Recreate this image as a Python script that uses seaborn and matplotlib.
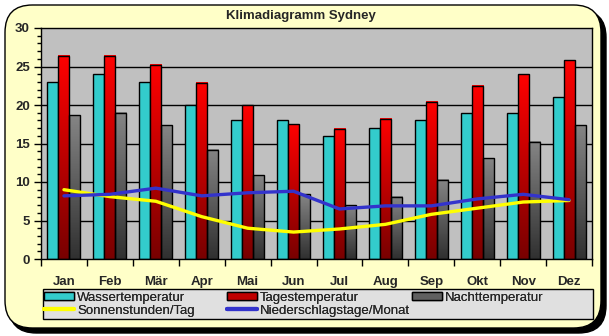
import numpy as np
import pandas as pd
import matplotlib
matplotlib.use("Agg")
import matplotlib.pyplot as plt
import seaborn as sns
from matplotlib.patches import FancyBboxPatch, Rectangle
from matplotlib.lines import Line2D
from matplotlib.colors import LinearSegmentedColormap

months = ["Jan", "Feb", "Mär", "Apr", "Mai", "Jun", "Jul", "Aug", "Sep", "Okt", "Nov", "Dez"]
wasser = [23, 24, 23, 20, 18, 18, 16, 17, 18, 19, 19, 21]
tages = [26.4, 26.4, 25.2, 22.9, 20.0, 17.5, 16.9, 18.2, 20.4, 22.5, 24.0, 25.8]
nacht = [18.7, 19.0, 17.4, 14.2, 10.9, 8.4, 7.0, 8.1, 10.3, 13.1, 15.2, 17.4]
sonne = [9.0, 8.1, 7.5, 5.5, 4.0, 3.5, 3.9, 4.5, 5.8, 6.6, 7.4, 7.6]
regen = [8.2, 8.4, 9.2, 8.2, 8.6, 8.8, 6.5, 6.9, 6.9, 7.8, 8.4, 7.7]
series_names = ["Wassertemperatur", "Tagestemperatur", "Nachttemperatur"]
title = "Klimadiagramm Sydney"
line_names = ["Sonnenstunden/Tag", "Niederschlagstage/Monat"]
yticks = [0, 5, 10, 15, 20, 25, 30]

sns.set_theme(style="white")
plt.rcParams["font.family"] = ["Liberation Sans", "DejaVu Sans"]

W, H = 609, 336
fig = plt.figure(figsize=(W / 100, H / 100), dpi=100)
fig.patch.set_facecolor("white")


def fx(px):
    return px / W


def fy(py):
    return 1 - py / H


shadow = FancyBboxPatch((fx(9), fy(333)), fx(597), (328 - 5) / H,
                        boxstyle="round,pad=0,rounding_size=0.045",
                        transform=fig.transFigure, facecolor="black",
                        edgecolor="black", mutation_aspect=W / H, zorder=-3)
main = FancyBboxPatch((fx(5), fy(328)), fx(596), (328 - 5) / H,
                      boxstyle="round,pad=0,rounding_size=0.045",
                      transform=fig.transFigure, facecolor="#FFFFC8",
                      edgecolor="black", linewidth=1.0, mutation_aspect=W / H, zorder=-2)
legbox = Rectangle((fx(43), fy(319)), fx(550), 30 / H, transform=fig.transFigure,
                   facecolor="#E0E0E0", edgecolor="black", linewidth=1.0, zorder=-1)
fig.patches.extend([shadow, main, legbox])

ax = fig.add_axes([fx(41), fy(259), fx(592 - 41), (259 - 28) / H])
ax.set_facecolor("#C0C0C0")

df = pd.DataFrame({
    "Monat": months * 3,
    "Serie": [series_names[0]] * 12 + [series_names[1]] * 12 + [series_names[2]] * 12,
    "Wert": wasser + tages + nacht,
})
sns.barplot(data=df, x="Monat", y="Wert", hue="Serie", hue_order=series_names,
            order=months, width=0.72, gap=0, dodge=True, saturation=1,
            palette=["#33CCCC", "#E00000", "#606060"], edgecolor="black",
            linewidth=1.0, ax=ax, legend=False, errorbar=None, zorder=2)

cmaps = {
    1: LinearSegmentedColormap.from_list("r", ["#780000", "#FF0000"]),
    2: LinearSegmentedColormap.from_list("g", ["#303030", "#858585"]),
}
grad = np.linspace(0, 1, 256).reshape(-1, 1)
for i, cont in enumerate(ax.containers):
    if i in cmaps:
        for rect in cont:
            x0, w, h = rect.get_x(), rect.get_width(), rect.get_height()
            ax.imshow(grad, extent=(x0, x0 + w, 0, h), origin="lower",
                      aspect="auto", cmap=cmaps[i], zorder=2.1, interpolation="bilinear")
            rect.set_facecolor("none")
            rect.set_zorder(2.2)

xs = np.arange(12)
sns.lineplot(x=xs, y=sonne, color="#FFFF00", linewidth=2.4, ax=ax, zorder=3, sort=False)
sns.lineplot(x=xs, y=regen, color="#3333CC", linewidth=2.4, ax=ax, zorder=3.1, sort=False)

ax.set_xlim(-0.5, 11.5)
ax.set_ylim(0, 30)
ax.set_aspect("auto")
ax.set_xlabel("")
ax.set_ylabel("")

for v in [5, 10, 15, 20, 25]:
    ax.axhline(v, color="black", linewidth=1.0, zorder=1)

for s in ax.spines.values():
    s.set_color("black")
    s.set_linewidth(1.0)

ax.set_yticks(yticks)
ax.set_yticks(np.arange(0, 31, 1), minor=True)
ax.set_yticklabels([str(t) for t in yticks], fontweight="bold", fontsize=9.5)
ax.tick_params(axis="y", which="major", direction="out", length=5, width=1,
               color="black", pad=3, left=True)
ax.tick_params(axis="y", which="minor", direction="out", length=3, width=1,
               color="black", left=True)

ax.set_xticks(xs)
ax.set_xticklabels(months, fontweight="bold", fontsize=9.5)
ax.set_xticks(np.arange(-0.5, 12, 1), minor=True)
ax.tick_params(axis="x", which="major", length=0, pad=12)
ax.tick_params(axis="x", which="minor", direction="out", length=5, width=1,
               color="black", bottom=True)
ax.grid(False)

fig.text(fx(301), fy(16), title, ha="center", va="center",
         fontweight="bold", fontsize=9.5)

h_wasser = Rectangle((0, 0), 1, 1, facecolor="#33CCCC", edgecolor="black", linewidth=1)
h_tages = Rectangle((0, 0), 1, 1, facecolor="#C00000", edgecolor="black", linewidth=1)
h_nacht = Rectangle((0, 0), 1, 1, facecolor="#606060", edgecolor="black", linewidth=1)
h_sonne = Line2D([0], [0], color="#FFFF00", linewidth=3)
h_regen = Line2D([0], [0], color="#3333CC", linewidth=3)

columns = [
    ([h_wasser, h_sonne], [series_names[0], line_names[0]], 44),
    ([h_tages, h_regen], [series_names[1], line_names[1]], 227),
    ([h_nacht], [series_names[2]], 412),
]
for hs, ls, xpos in columns:
    lg = fig.legend(hs, ls, ncol=1, loc="upper left",
                    bbox_to_anchor=(fx(xpos), fy(291.5)),
                    fontsize=9.5, frameon=False,
                    borderpad=0.0, labelspacing=0.08, handlelength=2.3,
                    handleheight=0.6, handletextpad=0.2, borderaxespad=0)
    fig.add_artist(lg)

fig.savefig("out.png", dpi=100, facecolor=fig.get_facecolor())
